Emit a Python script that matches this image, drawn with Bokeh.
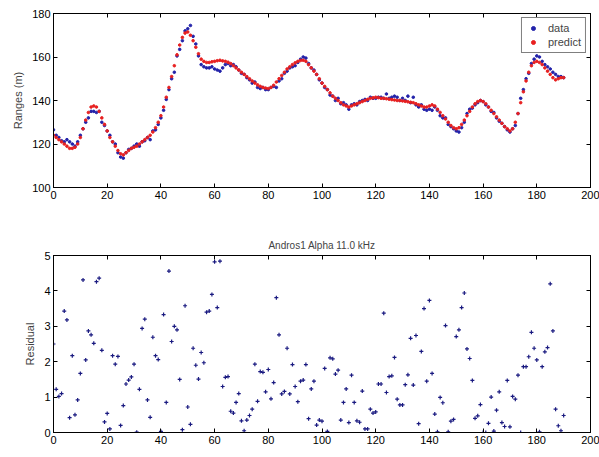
from bokeh.plotting import figure
from bokeh.layouts import column
from bokeh.models import LinearAxis, FixedTicker, ColumnDataSource, Range1d, Legend, LegendItem
from bokeh.embed import file_html
from bokeh.resources import INLINE

sample = list(range(192))

predict = [124, 123, 122, 121, 120, 119, 118, 118, 118.5, 120, 123, 127, 131, 134.5, 137, 137.5, 137, 135, 132, 129,
           126, 123, 121, 119, 117, 115.5, 115, 116, 117, 118, 118.5, 119, 120, 121, 122, 123, 124, 125.5, 127.5, 130,
           133, 137, 141.5, 146, 151, 156, 161, 165.5, 169, 171, 171.5, 170, 167.5, 164.5, 161.5, 159, 158, 157.5, 157.5, 157.8,
           158, 158.3, 158.5, 158.2, 158, 157.6, 157, 156, 155, 154, 153, 152, 151, 150, 149, 148, 147.2, 146.5, 146, 145.7,
           145.5, 146, 147, 148.5, 150, 151.5, 153, 154.5, 155.5, 156.5, 157.3, 158, 158.4, 158.5, 158, 156.5, 155, 153.5, 152, 150,
           148, 146.5, 145, 143.5, 142, 141, 140, 139, 138, 137.5, 137, 137.5, 138, 138.5, 139, 139.5, 140, 140.5, 141, 141.2,
           141.5, 141.3, 141, 141, 140.8, 140.6, 140.4, 140.2, 140, 140, 139.8, 139.6, 139.4, 139.2, 139, 138.5, 138, 137.5, 137, 137,
           137.5, 138, 137.5, 136, 134.5, 133, 131.5, 130, 128.5, 127.5, 127, 127.5, 129, 131, 133, 135, 137, 138.5, 139.5, 140,
           139.5, 138.5, 137, 135.5, 134, 132.5, 131, 129.5, 128, 127, 126, 127, 130, 134, 139, 144, 149, 153, 156, 157.5,
           158, 157.5, 156.5, 155, 153.5, 152, 150.5, 149.5, 150, 150.5, 150.5, 150]

data = [126.5, 124, 123, 121.5, 121, 122, 121, 120, 119, 121, 124, 127, 130, 132, 135, 135, 134.5, 135, 130, 128.5,
        126, 124, 121, 120, 116, 114, 113.5, 116, 117.5, 118, 119, 120, 119, 121, 121.5, 123, 122, 126, 126.5, 129,
        132, 135.5, 140.5, 145, 150, 153, 160.5, 163.5, 167.5, 172, 173, 174.5, 169.5, 166, 160.5, 156.5, 155.5, 155, 155, 155.5,
        154.5, 154, 153.5, 155, 156.5, 157, 156, 156.5, 155.5, 154, 152.5, 152, 150.5, 149.5, 148, 148.5, 146, 145.5, 146, 145,
        145, 146, 146.5, 146, 149, 150, 152.5, 153.5, 155, 155.5, 156, 157.5, 159, 160, 159.5, 157, 155, 154, 152, 149.5,
        148, 146, 145, 142.5, 142, 140, 141, 138.5, 139, 138, 136, 138, 138.5, 138, 139.5, 140, 140.5, 140, 141.5, 141,
        141, 141.5, 141.5, 141, 143, 141, 141.5, 142, 141.5, 140, 141, 140, 142, 139, 141.5, 138, 137, 138, 136, 135.5,
        136, 135.5, 137, 135.5, 133, 132, 132, 129, 128, 127, 126, 125.5, 127.5, 130, 134, 136, 136.5, 138, 139, 140,
        139.5, 138, 137, 135, 134.5, 132, 130.5, 129.5, 128, 126.5, 125.5, 127, 128.5, 134, 141, 145, 150, 152.5, 157, 159,
        160.5, 160, 158, 156.5, 155.5, 154.5, 153, 152, 151, 151, 150.5, 150]

residual = [2.5, 1.22, 1.02, 1.1, 3.43, 3.18, 0.42, 2.17, 0.5, 0.92, 1.67, 4.31, 2.05, 2.87, 2.76, 2.52, 4.26, 4.36, 2.32, 0.3,
            0.54, 0.1, 2.17, 1.93, 2.15, 0.2, 0.76, 1.37, 1.48, 1.57, 1.93, 0.01, 1.22, 2.94, 3.2, 0.92, 0.43, 2.69, 2.17, 2.06,
            0.03, 3.33, 0.85, 4.56, 2.57, 3.0, 2.9, 1.5, 0.08, 3.58, 0.72, 0.23, 2.38, 1.9, 1.51, 2.26, 1.97, 3.4, 3.43, 3.9,
            4.82, 3.53, 4.84, 1.3, 1.56, 1.58, 0.6, 0.55, 0.85, 1.1, 0.33, 0.05, 0.35, 0.48, 0.66, 1.93, 0.88, 1.72, 1.7, 1.15,
            1.78, 0.95, 1.41, 3.81, 2.76, 1.09, 1.16, 2.38, 1.09, 1.92, 1.3, 0.87, 1.45, 1.48, 1.92, 0.39, 1.23, 1.45, 0.21, 0.35,
            0.32, 1.81, 0.03, 2.11, 2.08, 1.65, 1.76, 0.35, 0.85, 1.23, 0.28, 1.62, 0.85, 0.33, 0.29, 1.17, 0.1, 0.1, 0.66, 0.55,
            0.58, 1.37, 1.37, 3.37, 1.13, 1.58, 1.6, 2.12, 0.94, 0.78, 0.78, 1.35, 1.63, 2.66, 1.34, 2.74, 0.25, 2.29, 3.5, 1.45,
            3.73, 1.67, 0.52, 0.02, 0.99, 0.84, 3.02, 0.02, 0.32, 0.37, 2.71, 2.9, 3.53, 3.94, 2.36, 2.09, 1.47, 0.4, 0.47, 0.79,
            0.0, 0.0, 0.26, 1.0, 0.04, 0.63, 1.15, 0.28, 0.17, 1.47, 0.16, 1.02, 0.94, 1.62, 0.0, 1.86, 1.86, 2.14, 2.83, 2.38,
            2.05, 0.02, 1.86, 2.28, 2.4, 4.2, 2.87, 0.66, 0.19, 0.05, 0.48]

x_ticks = [0, 20, 40, 60, 80, 100, 120, 140, 160, 180, 200]
range_ticks = [100, 120, 140, 160, 180]
resid_ticks = [0, 1, 2, 3, 4, 5]
title_text = "Andros1 Alpha 11.0 kHz"

FONT = "Liberation Sans"
BLUE = "#2222aa"
RED = "#e82020"


def mirror_axis(ticks):
    return LinearAxis(ticker=FixedTicker(ticks=ticks), major_tick_in=4, major_tick_out=0,
                      minor_tick_line_color=None, major_label_overrides={t: "" for t in ticks},
                      major_label_standoff=0, major_label_text_font_size="1px",
                      axis_line_color="black")


def style_axes(p, xt, yt):
    p.outline_line_color = "black"
    p.outline_line_width = 1
    p.xgrid.visible = False
    p.ygrid.visible = False
    for ax in p.xaxis + p.yaxis:
        ax.major_tick_in = 4
        ax.major_tick_out = 0
        ax.minor_tick_line_color = None
        ax.axis_line_color = "black"
        ax.major_label_text_font = FONT
        ax.major_label_text_font_size = "11px"
        ax.major_label_text_color = "black"
        ax.axis_label_text_font = FONT
        ax.axis_label_text_font_size = "11px"
        ax.axis_label_text_font_style = "normal"
        ax.major_label_standoff = 3
    p.xaxis.ticker = FixedTicker(ticks=xt)
    p.yaxis.ticker = FixedTicker(ticks=yt)
    p.add_layout(mirror_axis(xt), "above")
    p.add_layout(mirror_axis(yt), "right")


src = ColumnDataSource(dict(x=sample, data=data, predict=predict, residual=residual))

p1 = figure(width=599, height=225, output_backend="svg", toolbar_location=None,
            x_range=Range1d(0, 200), y_range=Range1d(100, 180),
            min_border_left=53, min_border_right=9, min_border_top=13, min_border_bottom=38)
p1.background_fill_color = "white"
p1.border_fill_color = "white"
style_axes(p1, x_ticks, range_ticks)
p1.yaxis[0].axis_label = "Ranges (m)"
r_data = p1.scatter("x", "data", source=src, marker="circle", size=2.6, color=BLUE)
r_pred = p1.scatter("x", "predict", source=src, marker="circle", size=2.6, color=RED)
legend = Legend(items=[LegendItem(label="data", renderers=[r_data]),
                       LegendItem(label="predict", renderers=[r_pred])],
                location="top_right", label_text_font=FONT, label_text_font_size="11px",
                border_line_color="black", border_line_width=1, glyph_width=14, glyph_height=10,
                label_height=10, spacing=2, padding=4, margin=4, label_standoff=8)
p1.add_layout(legend)

p2 = figure(width=599, height=232, output_backend="svg", toolbar_location=None,
            x_range=Range1d(0, 200), y_range=Range1d(0, 5),
            min_border_left=53, min_border_right=9, min_border_top=30, min_border_bottom=25)
p2.background_fill_color = "white"
p2.border_fill_color = "white"
style_axes(p2, x_ticks, resid_ticks)
p2.yaxis[0].axis_label = "Residual"
p2.title.text = title_text
p2.title.align = "center"
p2.title.text_font = FONT
p2.title.text_font_size = "10px"
p2.title.text_font_style = "normal"
p2.scatter("x", "residual", source=src, marker="cross", size=4, line_width=1.2, color="#1a1a80")

layout = column(p1, p2, spacing=0)
open("out.html", "w").write(file_html(layout, INLINE))
